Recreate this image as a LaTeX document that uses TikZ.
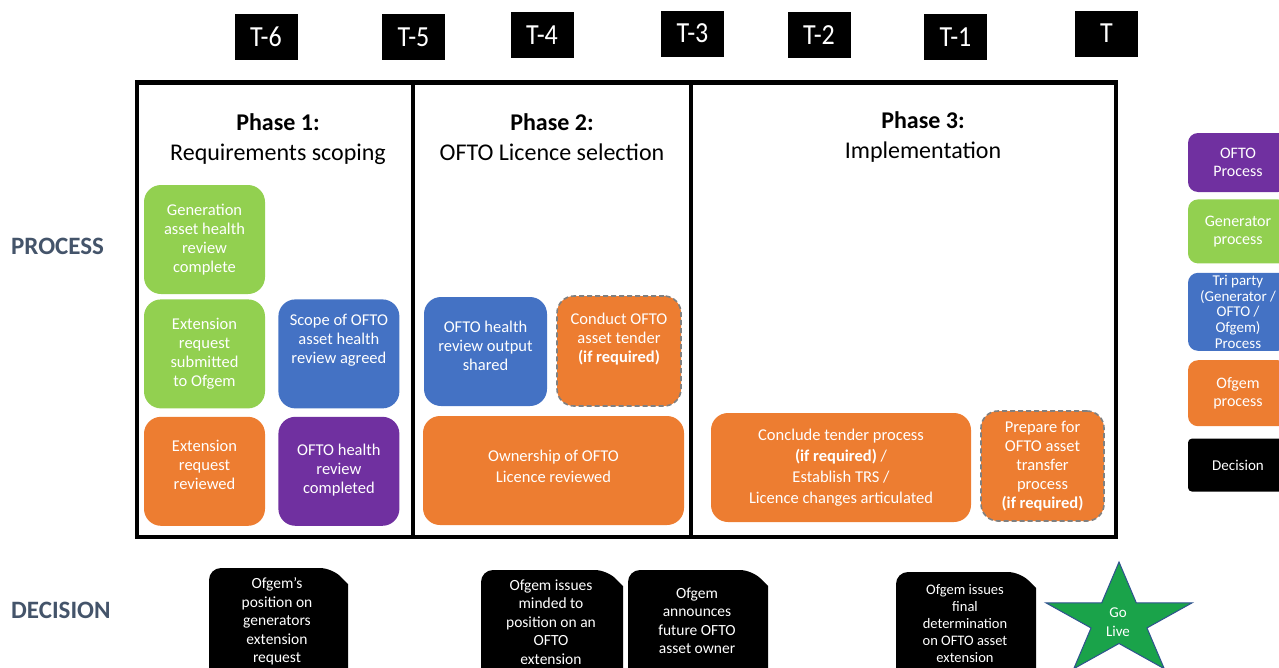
\documentclass[tikz,border=0pt]{standalone}
\usepackage{fontspec}
\setmainfont{Carlito}
\usepackage{xcolor}
\usepackage{tikz}
\usetikzlibrary{positioning}
\definecolor{ofgreen}{RGB}{146,208,80}
\definecolor{ofblue}{RGB}{68,114,196}
\definecolor{oforange}{RGB}{237,125,49}
\definecolor{ofpurple}{RGB}{112,48,160}
\definecolor{ofslate}{RGB}{68,84,106}
\definecolor{stargreen}{RGB}{26,163,74}
\definecolor{starblue}{RGB}{47,82,143}

\begin{document}
\begin{tikzpicture}[x=1pt, y=-1pt, node distance=8pt]
    \tikzstyle{tbox}=[fill=black, text=white, minimum width=63pt, minimum height=46pt, inner sep=0pt, font=\fontsize{26}{28}\selectfont]
    \tikzstyle{pbox}=[rounded corners=17pt, text=white, align=center, inner sep=2pt, minimum width=121pt, minimum height=109pt, font=\fontsize{16.5}{19}\selectfont]
    \tikzstyle{optbox}=[draw=gray, line width=1.6pt, dash pattern=on 5pt off 3pt]
    \tikzstyle{legbox}=[rounded corners=10pt, text=white, align=center, minimum width=100pt, inner sep=1pt, font=\fontsize{16}{18.5}\selectfont]
    \tikzstyle{dtext}=[text=white, align=center, inner sep=0pt, font=\fontsize{15.5}{18.5}\selectfont]
    \tikzstyle{rowlabel}=[text=ofslate, anchor=west, inner sep=0pt, font=\fontsize{25}{30}\selectfont\bfseries]
    \tikzstyle{phase}=[align=center, font=\fontsize{24}{30}\selectfont]
    \useasboundingbox (0,0) rectangle (1279,667);

    % timeline
    \node[tbox] (t6) at (266,37) {\scalebox{1}[1.12]{T-6}};
    \node[tbox] (t5) at (413.5,37) {\scalebox{1}[1.12]{T-5}};
    \node[tbox] (t4) at (542,35) {\scalebox{1}[1.12]{T-4}};
    \node[tbox] (t3) at (692.5,33.5) {\scalebox{1}[1.12]{T-3}};
    \node[tbox] (t2) at (819,35) {\scalebox{1}[1.12]{T-2}};
    \node[tbox] (t1) at (955.5,37) {\scalebox{1}[1.12]{T-1}};
    \node[tbox] (t0) at (1106.5,33.5) {\scalebox{1}[1.12]{T}};

    % phase frame
    \draw[line width=4.5pt] (137,82.5) rectangle (1116,537);
    \draw[line width=4.5pt] (413,82.5) -- (413,537);
    \draw[line width=4.5pt] (691,82.5) -- (691,537);
    \node[phase] (ph1) at (278,139) {\textbf{Phase 1:}\\Requirements scoping};
    \node[phase] (ph2) at (552,137) {\textbf{Phase 2:}\\OFTO Licence selection};
    \node[phase] (ph3) at (923,137) {\textbf{Phase 3:}\\Implementation};

    \node[rowlabel] (proc) at (11,246) {PROCESS};
    \node[rowlabel] (decn) at (11,610) {DECISION};

    % phase 1
    \node[pbox, fill=ofgreen] (genrev) at (204.5,239.5) {Generation\\asset health\\review\\complete};
    \node[pbox, fill=ofgreen, below=5pt of genrev] (extsub) {Extension\\request\\submitted\\to Ofgem};
    \node[pbox, fill=oforange, below=8pt of extsub, text depth=12pt] (extrev) {Extension\\request\\reviewed};
    \node[pbox, fill=ofblue, right=13pt of extsub, text depth=30pt] (scope) {Scope of OFTO\\asset health\\review agreed};
    \node[pbox, fill=ofpurple, below=8pt of scope, text depth=5pt] (hrdone) {OFTO health\\review\\completed};

    % phase 2
    \node[pbox, fill=ofblue, minimum width=123pt, text depth=11pt] (hrshared) at (485.5,351.5) {OFTO health\\review output\\shared};
    \node[pbox, optbox, fill=oforange, minimum width=124pt, minimum height=110pt, text depth=27pt] (tender) at (619,351) {Conduct OFTO\\asset tender\\\textbf{(if required)}};
    \node[pbox, fill=oforange, minimum width=261pt, font=\fontsize{16.5}{21}\selectfont, text depth=9pt] (ownrev) at (553.5,470.5) {Ownership of OFTO\\Licence reviewed};

    % phase 3
    \node[pbox, fill=oforange, minimum width=260pt, font=\fontsize{16.5}{21}\selectfont] (conclude) at (841,467.5) {Conclude tender process\\\textbf{(if required)} /\\Establish TRS /\\Licence changes articulated};
    \node[pbox, optbox, fill=oforange, minimum width=123pt, minimum height=110pt] (transfer) at (1042.5,466) {Prepare for\\OFTO asset\\transfer\\process\\\textbf{(if required)}};

    % legend
    \node[legbox, fill=ofpurple, minimum height=59pt] (legofto) at (1238,162.5) {OFTO\\Process};
    \node[legbox, fill=ofgreen, minimum height=64pt, below=7pt of legofto] (leggen) {Generator\\process};
    \node[legbox, fill=ofblue, minimum height=78pt, inner sep=0pt, below=9pt of leggen, font=\fontsize{15}{15.7}\selectfont] (legtri) {Tri party\\(Generator /\\OFTO /\\Ofgem)\\Process};
    \node[legbox, fill=oforange, minimum height=66pt, below=9pt of legtri] (legofgem) {Ofgem\\process};
    \node[legbox, fill=black, rounded corners=4pt, minimum height=53pt, below=12pt of legofgem, font=\fontsize{15}{18}\selectfont] (legdec) {Decision};

    % decisions
    \fill (209,700) [rounded corners=12pt] -- (209,568) -- (332,568) [sharp corners] -- (348,584) -- (348,700) -- cycle;
    \fill (481,700) [rounded corners=12pt] -- (481,570) -- (607,570) [sharp corners] -- (623,586) -- (623,700) -- cycle;
    \fill (628,700) [rounded corners=12pt] -- (628,570) -- (752,570) [sharp corners] -- (768,586) -- (768,700) -- cycle;
    \fill (896,700) [rounded corners=12pt] -- (896,572) -- (1020,572) [sharp corners] -- (1036,588) -- (1036,700) -- cycle;
    \node[dtext] (dec1) at (277,621.5) {Ofgem's\\position on\\generators\\extension\\request};
    \node[dtext] (dec2) at (551,622) {Ofgem issues\\minded to\\position on an\\OFTO\\extension};
    \node[dtext] (dec3) at (697,620.5) {Ofgem\\announces\\future OFTO\\asset owner};
    \node[dtext, font=\fontsize{14.5}{17}\selectfont] (dec4) at (965,623.5) {Ofgem issues\\final\\determination\\on OFTO asset\\extension};

    % go live
    \coordinate (gostar) at (1119,621);
    \filldraw[fill=stargreen, draw=starblue, line width=1pt] (gostar) +(90:77pt and 59pt) -- +(126:29.4pt and 22.5pt) -- +(162:77pt and 59pt) -- +(198:29.4pt and 22.5pt) -- +(234:77pt and 59pt) -- +(270:29.4pt and 22.5pt) -- +(306:77pt and 59pt) -- +(342:29.4pt and 22.5pt) -- +(18:77pt and 59pt) -- +(54:29.4pt and 22.5pt) -- cycle;
    \node[dtext, font=\fontsize{15}{19}\selectfont] (golive) at (1118,622) {Go\\Live};
  \end{tikzpicture}
\end{document}
